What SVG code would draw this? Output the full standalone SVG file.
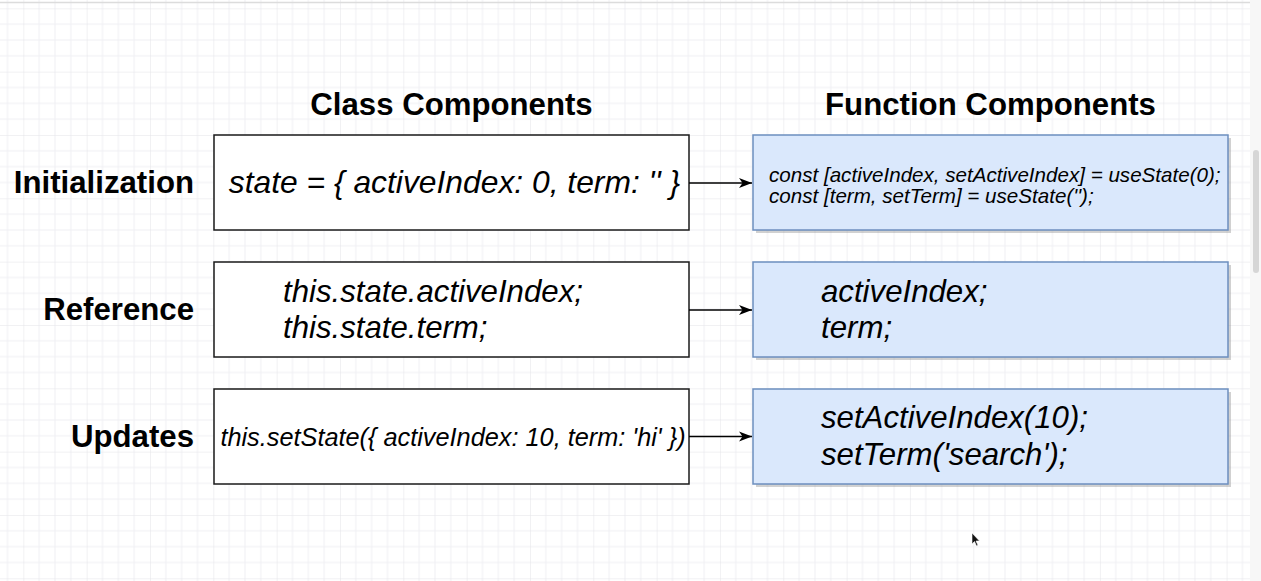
<svg xmlns="http://www.w3.org/2000/svg" width="1261" height="581" viewBox="0 0 1261 581">
  <style>
    .hd { font-family: "Liberation Sans", Arial, sans-serif; font-weight: bold; font-size: 31.2px; fill: #000; }
    .row { font-family: "Liberation Sans", Arial, sans-serif; font-weight: bold; font-size: 31.2px; fill: #000; text-anchor: end; }
    .code { font-family: "Liberation Sans", Arial, sans-serif; font-style: italic; font-size: 31.2px; fill: #000; }
    .box { fill: #ffffff; stroke: #1a1a1a; stroke-width: 1.5; }
    .fbox { fill: #dae8fc; stroke: #6c8ebf; stroke-width: 1.5; }
    .shadow { fill: #8c8c8c; opacity: 0.4; }
    .edge { stroke: #000; stroke-width: 1.5; fill: none; }
  </style>
  <defs>
    <pattern id="grid" patternUnits="userSpaceOnUse" x="23.33" y="8.33" width="63.33" height="63.33">
      <path d="M15.83 0V63.33M31.67 0V63.33M47.5 0V63.33M0 15.83H63.33M0 31.67H63.33M0 47.5H63.33" stroke="#f0f0f3" stroke-width="1" fill="none"/>
      <path d="M0 0V63.33M0 0H63.33" stroke="#e3e3e8" stroke-width="1" fill="none"/>
    </pattern>
    <marker id="arrow" viewBox="0 0 13 11" refX="13" refY="5.5" markerWidth="13" markerHeight="11" markerUnits="userSpaceOnUse" orient="auto">
      <path d="M0 0.5L13 5.5L0 10.5L3.5 5.5Z" fill="#000"/>
    </marker>
  </defs>

  <!-- background -->
  <rect x="0" y="0" width="1261" height="581" fill="#ffffff"/>
  <rect x="0" y="0" width="1250" height="581" fill="url(#grid)"/>
  <rect x="1250" y="0" width="11" height="581" fill="#f7f7f7"/>
  <rect x="1253" y="150" width="6" height="123" rx="3" fill="#d6d6d6"/>
  <line x1="0" y1="2.5" x2="1250" y2="2.5" stroke="#dcdcdc" stroke-width="1.5"/>

  <!-- headings -->
  <g id="heading-class"><text class="hd" x="451.5" y="115" text-anchor="middle">Class Components</text></g>
  <g id="heading-function"><text class="hd" x="990.5" y="115" text-anchor="middle">Function Components</text></g>

  <!-- row labels -->
  <g id="label-initialization"><text class="row" x="194" y="193">Initialization</text></g>
  <g id="label-reference"><text class="row" x="194" y="320">Reference</text></g>
  <g id="label-updates"><text class="row" x="194" y="447">Updates</text></g>

  <!-- class component boxes -->
  <g id="class-init">
    <rect class="box" x="214" y="135" width="475" height="95"/>
    <text class="code" x="454.5" y="193" text-anchor="middle" style="font-size:31.8px">state = { activeIndex: 0, term: '' }</text>
  </g>
  <g id="class-reference">
    <rect class="box" x="214" y="262" width="475" height="95"/>
    <text class="code" x="283" y="302">this.state.activeIndex;</text>
    <text class="code" x="283" y="338">this.state.term;</text>
  </g>
  <g id="class-updates">
    <rect class="box" x="214" y="389" width="475" height="95"/>
    <text class="code" x="453" y="446" text-anchor="middle" style="font-size:25.3px">this.setState({ activeIndex: 10, term: 'hi' })</text>
  </g>

  <!-- function component boxes -->
  <g id="func-init">
    <rect class="shadow" x="756" y="138" width="475" height="95"/>
    <rect class="fbox" x="753" y="135" width="475" height="95"/>
    <text class="code" x="769" y="181.5" style="font-size:20.6px">const [activeIndex, setActiveIndex] = useState(0);</text>
    <text class="code" x="769" y="203" style="font-size:20.6px">const [term, setTerm] = useState('');</text>
  </g>
  <g id="func-reference">
    <rect class="shadow" x="756" y="265" width="475" height="95"/>
    <rect class="fbox" x="753" y="262" width="475" height="95"/>
    <text class="code" x="821" y="302">activeIndex;</text>
    <text class="code" x="821" y="338">term;</text>
  </g>
  <g id="func-updates">
    <rect class="shadow" x="756" y="392" width="475" height="95"/>
    <rect class="fbox" x="753" y="389" width="475" height="95"/>
    <text class="code" x="821" y="428">setActiveIndex(10);</text>
    <text class="code" x="821" y="465">setTerm('search');</text>
  </g>

  <!-- connectors -->
  <g id="connectors">
    <line class="edge" x1="689" y1="183" x2="752" y2="183" marker-end="url(#arrow)"/>
    <line class="edge" x1="689" y1="310" x2="752" y2="310" marker-end="url(#arrow)"/>
    <line class="edge" x1="689" y1="436.5" x2="752" y2="436.5" marker-end="url(#arrow)"/>
  </g>

  <!-- mouse pointer -->
  <path d="M972 533L972 544L974.5 541.5L976.5 546L978 545.3L976 541H979.5Z" fill="#111" stroke="#fff" stroke-width="0.6"/>
</svg>
